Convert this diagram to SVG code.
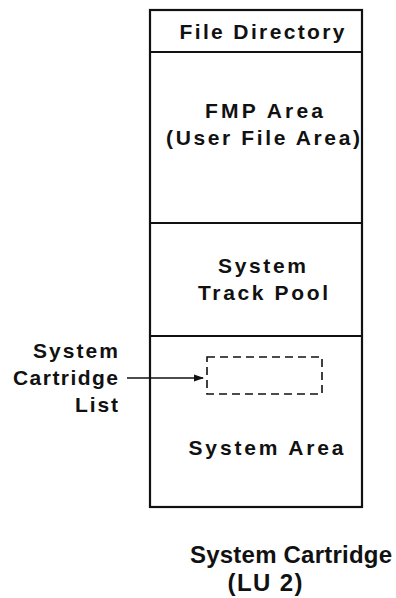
<svg xmlns="http://www.w3.org/2000/svg" width="396" height="598" viewBox="0 0 396 598">
<style>
text{font-family:"Liberation Sans",Arial,sans-serif;font-weight:bold;fill:#111;}
.t{font-size:21px;text-anchor:middle;}
.l{font-size:21px;text-anchor:end;}
.c{font-size:24px;text-anchor:middle;}
.box{fill:none;stroke:#111;stroke-width:2.2;}
.div{stroke:#111;stroke-width:2.2;}
</style>
<defs>
<marker id="ah" markerWidth="10" markerHeight="8" refX="9" refY="4" orient="auto" markerUnits="userSpaceOnUse">
<path d="M0,0.5 L10,4 L0,7.5 Z" fill="#111"/>
</marker>
</defs>
<rect width="396" height="598" fill="#fff"/>
<g id="cartridge">
<rect class="box" x="150" y="10" width="212" height="497"/>
</g>
<g id="file-directory">
<line class="div" x1="150" y1="52" x2="362" y2="52"/>
<text class="t" x="262" y="39" textLength="165" lengthAdjust="spacing">File Directory</text>
</g>
<g id="fmp-area">
<line class="div" x1="150" y1="223" x2="362" y2="223"/>
<text class="t" x="264" y="118" textLength="118" lengthAdjust="spacing">FMP Area</text>
<text class="t" x="263" y="145" textLength="194" lengthAdjust="spacing">(User File Area)</text>
</g>
<g id="system-track-pool">
<line class="div" x1="150" y1="336" x2="362" y2="336"/>
<text class="t" x="262" y="273" textLength="88" lengthAdjust="spacing">System</text>
<text class="t" x="263" y="300" textLength="130" lengthAdjust="spacing">Track Pool</text>
</g>
<g id="system-area">
<text class="t" x="266" y="455" textLength="155" lengthAdjust="spacing">System Area</text>
</g>
<g id="system-cartridge-list">
<rect x="207" y="357" width="115" height="37" fill="none" stroke="#111" stroke-width="1.6" stroke-dasharray="8,5"/>
</g>
<g id="list-label">
<text class="l" x="118" y="358" textLength="85" lengthAdjust="spacing">System</text>
<text class="l" x="118" y="385" textLength="105" lengthAdjust="spacing">Cartridge</text>
<text class="l" x="118" y="412" textLength="43" lengthAdjust="spacing">List</text>
</g>
<g id="connectors">
<line x1="127" y1="378" x2="203" y2="378" stroke="#111" stroke-width="1.6" marker-end="url(#ah)"/>
</g>
<g id="caption">
<text class="c" x="291" y="563" textLength="202" lengthAdjust="spacing">System Cartridge</text>
<text class="c" x="265" y="591" textLength="75" lengthAdjust="spacing">(LU 2)</text>
</g>
</svg>
